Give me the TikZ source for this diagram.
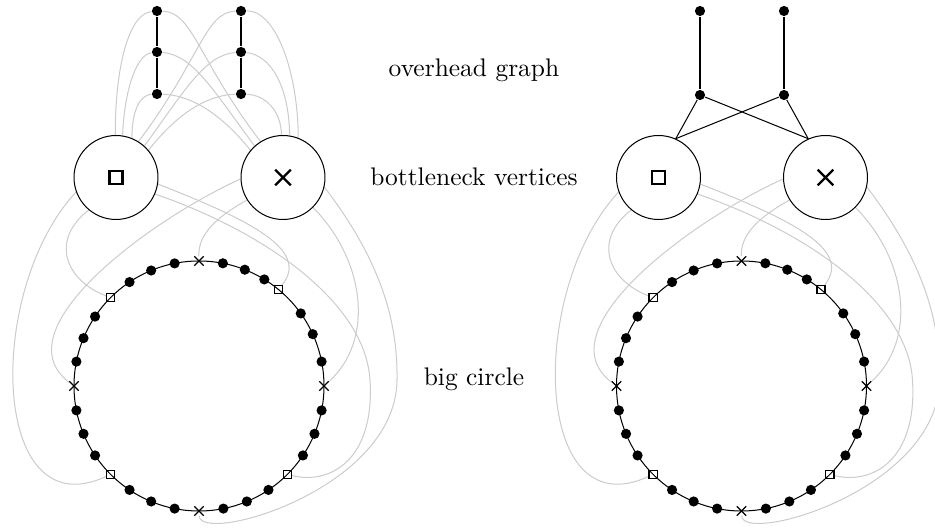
\documentclass[tikz,border=0pt]{standalone}
\usepackage{tikz}
\usepackage{xcolor}
\usetikzlibrary{shapes.misc, positioning, backgrounds}
\definecolor{edgeGray}{RGB}{204,204,204}

\tikzset{
  vtx/.style={circle, fill=black, inner sep=0pt, minimum size=4pt},
  sqmark/.style={rectangle, draw=black, line width=0.5pt, inner sep=0pt, minimum size=3.2pt},
  xmark/.style={cross out, draw=black, line width=0.5pt, inner sep=0pt, minimum size=3.2pt},
  bneck/.style={circle, draw=black, inner sep=0pt, minimum size=33pt},
  bigsq/.style={rectangle, draw=black, line width=0.9pt, inner sep=0pt, minimum size=5.2pt},
  bigx/.style={cross out, draw=black, line width=0.9pt, inner sep=0pt, minimum size=5.2pt},
  faint/.style={edgeGray, line width=0.4pt},
}

\begin{document}
\begin{tikzpicture}[x=0.393pt, y=-0.393pt]
\useasboundingbox (0,0) rectangle (935,529);

% Labels
\node (lblover) at (474,70) {overhead graph};
\node (lblbneck) at (474,177) {bottleneck vertices};
\node (lblcirc) at (474,379) {big circle};

% Bottleneck vertices and big circle (same in both halves)
\foreach \h/\dx in {L/0, R/542.5} {
  \begin{scope}[shift={(\dx,0)}]
    \node[bneck] (\h-sq) at (116,177.5) {};
    \node[bneck] (\h-x) at (283,177.5) {};
    \node[bigsq] (\h-sqsym) at (116,177.5) {};
    \node[bigx] (\h-xsym) at (283,177.5) {};

    % Big circle
    \coordinate (\h-c) at (199,386);
    \draw (\h-c) circle [radius=125];
    \foreach \a/\t [count=\i] in {0/xmark, 11.25/vtx, 24.5/vtx, 35.5/vtx,
        50.5/sqmark, 58.5/vtx, 68.5/vtx, 79/vtx,
        90/xmark, 101.25/vtx, 112.5/vtx, 123.75/vtx,
        135/sqmark, 146.25/vtx, 157.5/vtx, 168.75/vtx,
        180/xmark, 191.25/vtx, 202.5/vtx, 213.75/vtx,
        225/sqmark, 236.25/vtx, 247.5/vtx, 258.75/vtx,
        270/xmark, 281.25/vtx, 292.5/vtx, 303.75/vtx,
        315/sqmark, 326.25/vtx, 337.5/vtx, 348.75/vtx}
      \node[\t] (\h-m\i) at ({199+125*cos(\a)},{386-125*sin(\a)}) {};

    % Links from bottleneck vertices to the big circle
    \begin{scope}[on background layer]
      \draw[faint] (\h-sq.200) .. controls (-15,290) and (-10,530) .. (\h-m21);
      \draw[faint] (\h-sq.230) .. controls (50,240) and (65,280) .. (\h-m13);
      \draw[faint] (\h-sq.351) .. controls (250,220) and (310,250) .. (\h-m5);
      \draw[faint] (\h-sq.337) .. controls (260,230) and (365,300) .. (370,380)
                               .. controls (375,460) and (330,485) .. (\h-m29);
      \draw[faint] (\h-x.182) .. controls (150,220) and (0,330) .. (\h-m17);
      \draw[faint] (\h-x.212) .. controls (215,218) and (198,235) .. (\h-m9);
      \draw[faint] (\h-x.315) .. controls (365,260) and (375,340) .. (\h-m1);
      \draw[faint] (\h-x.347) .. controls (380,260) and (398,320) .. (397,380)
                              .. controls (396,490) and (200,545) .. (\h-m25);
    \end{scope}
  \end{scope}
}

% Overhead graph, left half
\node[vtx] (L-a1) at (157,11) {};
\node[vtx] (L-a2) at (157,52) {};
\node[vtx] (L-a3) at (157,94) {};
\node[vtx] (L-b1) at (241,11) {};
\node[vtx] (L-b2) at (241,52) {};
\node[vtx] (L-b3) at (241,94) {};
\draw (L-a1) -- (L-a2) -- (L-a3);
\draw (L-b1) -- (L-b2) -- (L-b3);

\begin{scope}[on background layer]
  \draw[faint] (L-a1) .. controls (128,14) and (115,70) .. (L-sq.91);
  \draw[faint] (L-a2) .. controls (135,55) and (124,95) .. (L-sq.81);
  \draw[faint] (L-a3) .. controls (140,95) and (132,110) .. (L-sq.68);
  \draw[faint] (L-b1) .. controls (275,10) and (298,70) .. (L-x.69);
  \draw[faint] (L-b2) .. controls (270,55) and (289,85) .. (L-x.81);
  \draw[faint] (L-b3) .. controls (265,95) and (281,110) .. (L-x.92);
  % crossing links
  \draw[faint] (L-a1) .. controls (193,12) and (198,60) .. (L-x.122);
  \draw[faint] (L-a2) .. controls (193,55) and (213,90) .. (L-x.132);
  \draw[faint] (L-a3) .. controls (188,95) and (218,110) .. (L-x.140);
  \draw[faint] (L-b1) .. controls (205,12) and (200,60) .. (L-sq.58);
  \draw[faint] (L-b2) .. controls (205,55) and (185,90) .. (L-sq.48);
  \draw[faint] (L-b3) .. controls (210,95) and (180,110) .. (L-sq.40);
\end{scope}

% Overhead graph, right half
\node[vtx] (R-a1) at (700,11) {};
\node[vtx] (R-a2) at (700,95) {};
\node[vtx] (R-b1) at (784,11) {};
\node[vtx] (R-b2) at (784,95) {};
\draw (R-a1) -- (R-a2);
\draw (R-b1) -- (R-b2);
\draw (R-a2) -- (R-sq.66);
\draw (R-a2) -- (R-x.114);
\draw (R-b2) -- (R-sq.66);
\draw (R-b2) -- (R-x.114);
\end{tikzpicture}
\end{document}
